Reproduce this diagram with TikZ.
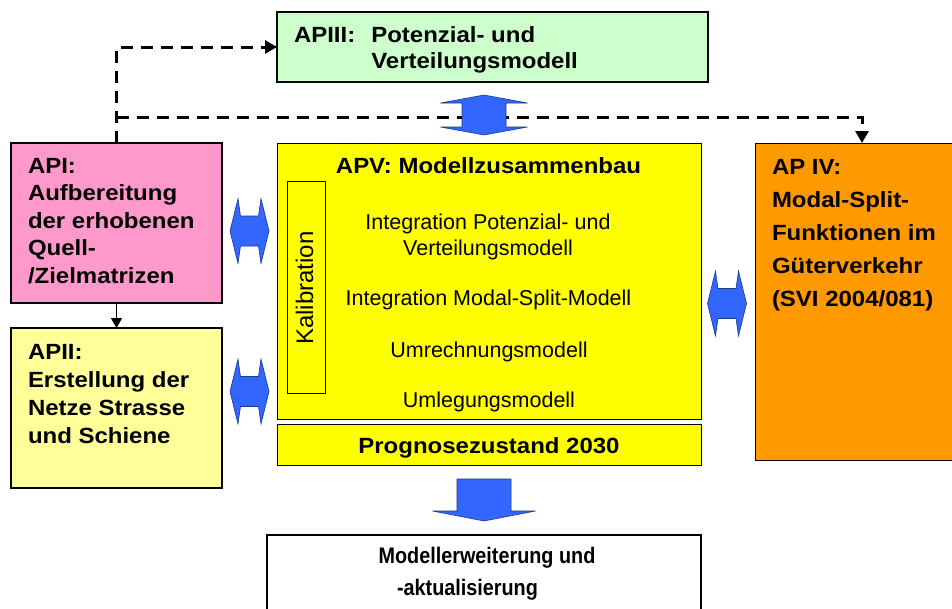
\documentclass[tikz,border=0pt]{standalone}
\usepackage{fontspec}
\setmainfont{Liberation Sans}[BoldFeatures={FakeStretch=1.09}]
\newfontfamily\narrowsans{Liberation Sans}[BoldFeatures={FakeStretch=0.88}]
\usetikzlibrary{arrows.meta,calc}

\definecolor{apgreen}{HTML}{CCFFCC}
\definecolor{appink}{HTML}{FF99CC}
\definecolor{aplight}{HTML}{FFFF99}
\definecolor{apyellow}{HTML}{FFFF00}
\definecolor{aporange}{HTML}{FF9900}
\definecolor{arrowblue}{HTML}{3366FF}

\begin{document}
\begin{tikzpicture}[x=1pt,y=-1pt,
  box/.style={draw=black, line width=1.2pt, anchor=north west, inner sep=0pt, outer sep=0pt},
  txt/.style={inner sep=0pt, outer sep=0pt},
  headtxt/.style={txt, font=\fontsize{22}{#1}\selectfont\bfseries},
  bodytxt/.style={txt, anchor=base, font=\fontsize{21.5}{26}\selectfont},
  dashline/.style={draw=black, line width=3pt, dash pattern=on 12pt off 8pt,
    -{Triangle[length=12pt,width=13pt]}},
  flow/.style={draw=black, line width=1.4pt, -{Triangle[length=10pt,width=11pt]}},
  bluearrow/.style={fill=arrowblue, draw=arrowblue!55!black, line width=0.6pt, line join=miter},
  hdouble/.pic={
    \path[bluearrow] (-19.5,0) -- (-11.5,-32.5) -- (-9,-15) -- (9,-15) -- (11.5,-32.5)
      -- (19.5,0) -- (11.5,32.5) -- (9,15) -- (-9,15) -- (-11.5,32.5) -- cycle;},
  vdouble/.pic={
    \path[bluearrow] (0,-20) -- (-43.5,-12) -- (-22,-12) -- (-22,12) -- (-43.5,12)
      -- (0,20) -- (43.5,12) -- (22,12) -- (22,-12) -- (43.5,-12) -- cycle;},
  downblock/.pic={
    \path[bluearrow] (-27,0) -- (27,0) -- (27,32) -- (51.5,32) -- (0,42)
      -- (-51.5,32) -- (-27,32) -- cycle;}
]
\useasboundingbox (0,0) rectangle (952,608);
\clip (0,0) rectangle (952,608);

% work package boxes
\node[box, fill=apgreen, minimum width=431pt, minimum height=70pt] (apiii) at (277,12) {};
\node[box, fill=appink, line width=1.5pt, minimum width=211pt, minimum height=160pt] (api) at (11,143) {};
\node[box, fill=aplight, line width=1.5pt, minimum width=211pt, minimum height=160pt] (apii) at (11,328) {};
\node[box, fill=apyellow, line width=1pt, minimum width=424pt, minimum height=276pt] (apv) at (277,143) {};
\node[box, fill=apyellow, line width=1pt, minimum width=424pt, minimum height=41pt] (prog) at (277,424) {};
\node[box, line width=1pt, minimum width=38pt, minimum height=212pt] (kal) at (287,181) {};
\node[box, fill=aporange, line width=1pt, minimum width=214pt, minimum height=317pt] (apiv) at (755,143) {};
\node[box, fill=white, line width=2pt, minimum width=434pt, minimum height=90pt] (ext) at (267,535) {};

% dashed data flows from API
\coordinate (jn) at (116.5,117);
\draw[dashline] (api.north) |- (apiii.west);
\draw[dashline] (jn) -| (apiv.north);
\draw[flow] (api.south) -- (apii.north);

% block arrows
\pic at (484,115) {vdouble};
\pic at (249.5,231) {hdouble};
\pic at (249.5,391.5) {hdouble};
\pic at (727,303.5) {hdouble};
\pic at (484,479) {downblock};

% texts
\node[headtxt=26, anchor=base west] (apiiit) at (294,42)
  {\begin{tabular}[t]{@{}l@{\hspace{16pt}}l@{}}APIII: & Potenzial- und\\ & Verteilungsmodell\end{tabular}};
\node[headtxt=27.5, anchor=base west] (apit) at (28,173)
  {\begin{tabular}[t]{@{}l@{}}API:\\Aufbereitung\\der erhobenen\\Quell-\\/Zielmatrizen\end{tabular}};
\node[headtxt=28, anchor=base west] (apiit) at (28,359)
  {\begin{tabular}[t]{@{}l@{}}APII:\\Erstellung der\\Netze Strasse\\und Schiene\end{tabular}};
\node[headtxt=33, anchor=base west] (apivt) at (772,174)
  {\begin{tabular}[t]{@{}l@{}}AP IV:\\Modal-Split-\\Funktionen im\\Güterverkehr\\(SVI 2004/081)\end{tabular}};
\node[headtxt=26, anchor=base] (apvt) at (488.5,173) {APV: Modellzusammenbau};
\node[bodytxt] (int1) at (488,229)
  {\begin{tabular}[t]{@{}c@{}}Integration Potenzial- und\\Verteilungsmodell\end{tabular}};
\node[bodytxt] (int2) at (488.5,305) {Integration Modal-Split-Modell};
\node[bodytxt] (umr) at (489,357) {Umrechnungsmodell};
\node[bodytxt] (uml) at (489,407) {Umlegungsmodell};
\node[headtxt=26, anchor=base] (progt) at (489,453) {Prognosezustand 2030};
\node[txt, rotate=90, anchor=base, font=\fontsize{24}{28}\selectfont] (kalt) at (313,288) {Kalibration};
\node[txt, anchor=base, font=\narrowsans\fontsize{22.5}{26}\selectfont\bfseries] (ext1) at (487,563) {Modellerweiterung und};
\node[txt, anchor=base, font=\narrowsans\fontsize{22.5}{26}\selectfont\bfseries] (ext2) at (467.5,595) {-aktualisierung};
\end{tikzpicture}
\end{document}
